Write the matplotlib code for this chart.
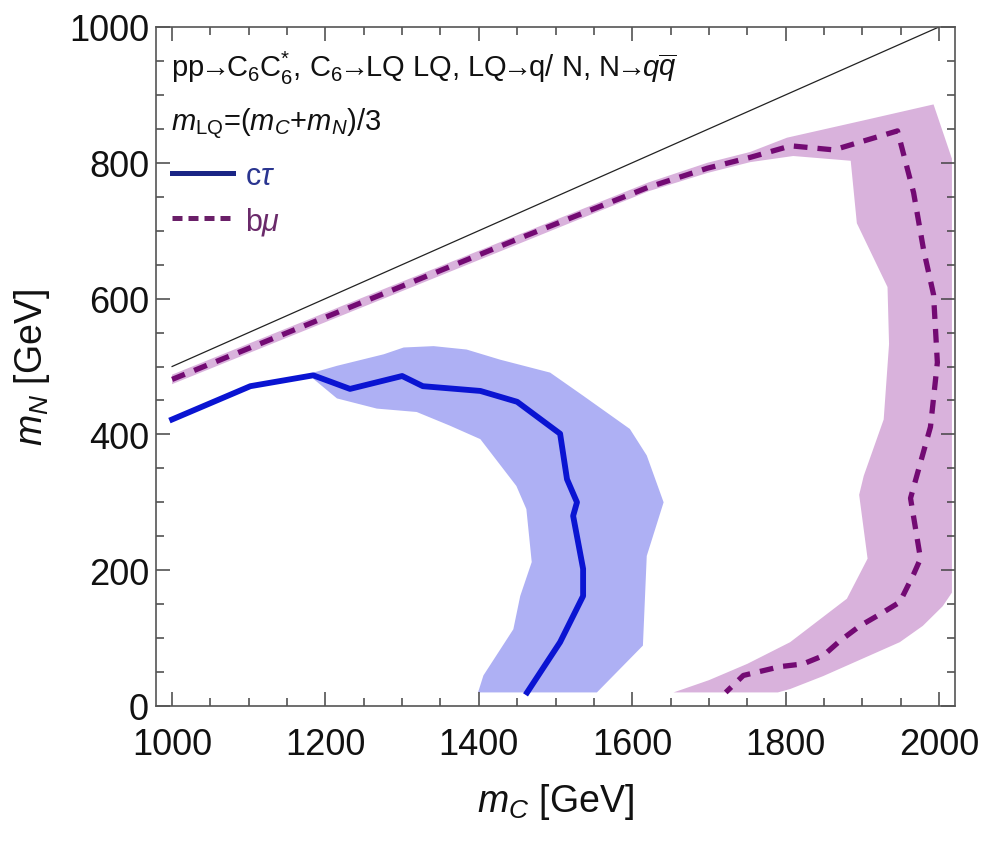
import matplotlib
matplotlib.use("Agg")
import matplotlib.pyplot as plt
from matplotlib.lines import Line2D
from matplotlib.ticker import MultipleLocator

FAM = ['Liberation Sans', 'DejaVu Sans']
plt.rcParams['font.family'] = FAM
plt.rcParams['mathtext.fontset'] = 'custom'
plt.rcParams['mathtext.rm'] = 'Liberation Sans'
plt.rcParams['mathtext.it'] = 'Liberation Sans:italic'
plt.rcParams['mathtext.bf'] = 'Liberation Sans:bold'

# ---- data ----
# kinematic boundary m_N = m_C / 2
kin_x = [1000, 2000]
kin_y = [500, 1000]

# c tau central line
ct_x = [1000, 1102, 1184, 1232, 1300, 1327, 1402, 1450, 1506, 1515, 1528, 1523, 1536, 1536, 1506, 1463]
ct_y = [422, 471, 487, 467, 486, 471, 464, 448, 401, 334, 300, 280, 202, 162, 94, 20]

# c tau band: outer edge then inner edge
ct_out_x = [1184, 1215, 1276, 1302, 1341, 1384, 1428, 1493, 1536, 1597, 1619, 1641, 1619, 1614, 1554]
ct_out_y = [491, 501, 518, 528, 530, 525, 510, 491, 457, 408, 369, 300, 221, 89, 20]
ct_in_x = [1399, 1406, 1445, 1454, 1469, 1462, 1449, 1402, 1362, 1319, 1267, 1215, 1184]
ct_in_y = [20, 45, 113, 162, 212, 290, 324, 393, 413, 433, 438, 453, 482]

# b mu central line
bm_x = [1000, 1297, 1458, 1621, 1698, 1754, 1807, 1863, 1946, 1967, 1980, 1993, 1998, 1989, 1963, 1976,
        1967, 1949, 1923, 1897, 1871, 1849, 1823, 1793, 1745, 1722]
bm_y = [481, 617, 691, 764, 792, 808, 825, 819, 847, 756, 672, 606, 506, 411, 306, 217,
        194, 153, 135, 118, 96, 74, 62, 58, 45, 20]

# b mu band: outer edge then inner edge
bm_out_x = [1000, 1300, 1621, 1698, 1754, 1802, 1900, 1993, 2017, 2017, 2005, 1979, 1949, 1893, 1849, 1806, 1790]
bm_out_y = [488, 625, 771, 800, 816, 837, 862, 886, 806, 167, 147, 118, 94, 66, 44, 25, 20]
bm_in_x = [1654, 1700, 1750, 1806, 1880, 1907, 1896, 1902, 1928, 1935, 1933, 1893, 1885, 1810, 1754, 1698, 1621, 1300, 1000]
bm_in_y = [20, 38, 62, 94, 158, 217, 311, 339, 422, 533, 617, 711, 803, 810, 801, 785, 758, 611, 474]

x_ticks = [1000, 1200, 1400, 1600, 1800, 2000]
y_ticks = [0, 200, 400, 600, 800, 1000]

# ---- figure ----
fig = plt.figure(figsize=(9.9, 8.45), dpi=100)
ax = fig.add_axes([156/990, 1-707/845, 799/990, 679/845])

ax.fill(bm_out_x + bm_in_x, bm_out_y + bm_in_y, color='#d9b2dc', lw=0, zorder=1)
ax.fill(ct_out_x + ct_in_x, ct_out_y + ct_in_y, color='#aeb0f4', lw=0, zorder=1)

ax.plot(kin_x, kin_y, color='#222222', lw=0.9, zorder=2)
ax.plot(ct_x, ct_y, color='#0a14d2', lw=4.2, solid_joinstyle='round', zorder=3)
ax.plot(bm_x, bm_y, color='#730a73', lw=3.8, dashes=(2.6, 1.9), zorder=3)

ax.set_xlim(979, 2021)
ax.set_ylim(0, 1000)
ax.set_xticks(x_ticks)
ax.set_yticks(y_ticks)
ax.xaxis.set_minor_locator(MultipleLocator(50))
ax.yaxis.set_minor_locator(MultipleLocator(50))
ax.tick_params(which='both', direction='in', top=True, right=True, color='#444444', width=1.1)
ax.tick_params(which='major', length=10, labelsize=26, labelcolor='#111111', pad=5)
ax.tick_params(axis='x', which='major', pad=15)
ax.tick_params(which='minor', length=6)
for s in ax.spines.values():
    s.set_color('#555555')
    s.set_linewidth(1.2)

ax.set_xlabel('$m_C$ [GeV]', fontsize=27, color='#111111', labelpad=14)
ax.set_ylabel('$m_N$ [GeV]', fontsize=27, color='#111111', labelpad=12)

arr = r'$\!\!\rightarrow\!\!$'
line1 = ('pp' + arr + r'C$_6$C$_6^{*}$, C$_6$' + arr + 'LQ LQ, LQ' + arr + 'q/ N, N' + arr
         + r'$q\overline{q}$')
ax.text(0.019, 0.940, line1,
        transform=ax.transAxes, fontsize=21, color='#111111', va='center', ha='left')
ax.text(0.019, 0.858, r'$m_{\rm LQ}$=($m_C$+$m_N$)/3',
        transform=ax.transAxes, fontsize=21, color='#111111', va='center', ha='left')

handles = [Line2D([], [], color='#1a2585', lw=3.6),
           Line2D([], [], color='#6a1f68', lw=3.6, dashes=(2.0, 1.2))]
leg = ax.legend(handles, [r'c$\tau$', r'b$\mu$'], loc='upper left',
                bbox_to_anchor=(0.012, 0.812), frameon=False, fontsize=22,
                handlelength=2.0, handletextpad=0.4, labelspacing=0.45,
                borderaxespad=0.0, borderpad=0.2)
for t, c in zip(leg.get_texts(), ['#2a3590', '#6a2a6a']):
    t.set_color(c)

fig.savefig('out.png', dpi=100)
